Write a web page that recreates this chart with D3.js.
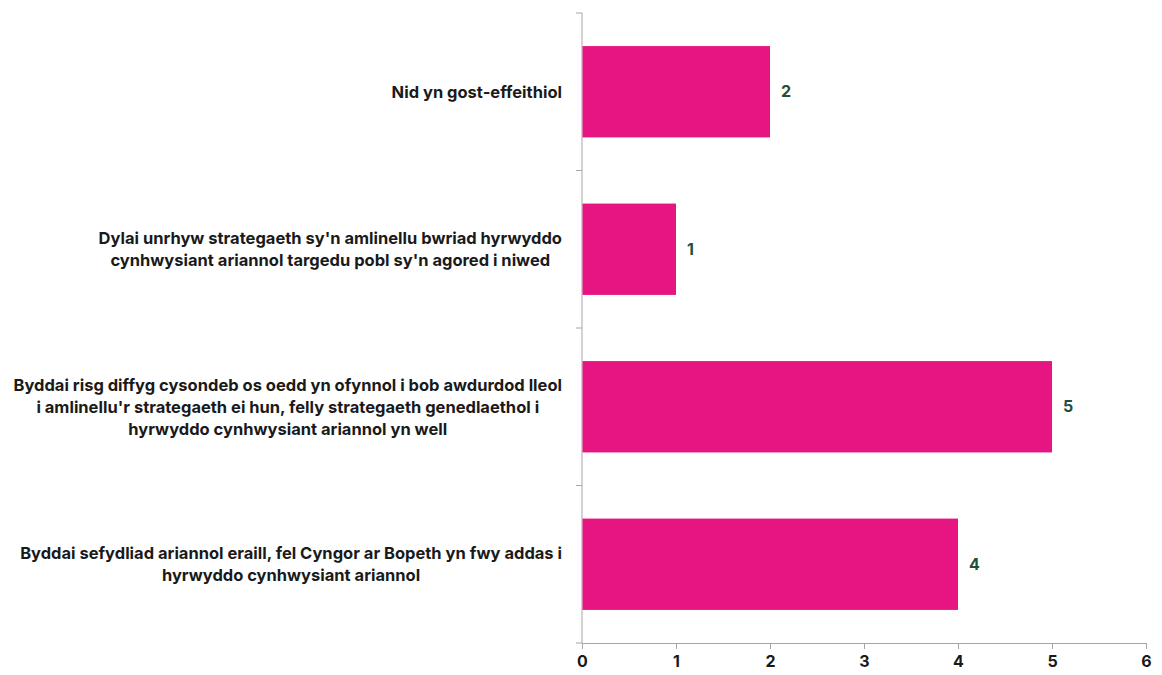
<!DOCTYPE html>
<html>
<head>
<meta charset="utf-8">
<script src="https://cdn.jsdelivr.net/npm/d3@7"></script>
<style>
  body { margin: 0; background: #fff; }
  svg text { font-family: Inter, "Noto Sans", sans-serif; }
</style>
</head>
<body>
<div class="canva"></div>
<script>
// categorïau (wedi'u rhannu'n llinellau fel yn y ddelwedd)
const categories = [
  ["Nid yn gost-effeithiol"],
  ["Dylai unrhyw strategaeth sy'n amlinellu bwriad hyrwyddo",
   "cynhwysiant ariannol targedu pobl sy'n agored i niwed"],
  ["Byddai risg diffyg cysondeb os oedd yn ofynnol i bob awdurdod lleol",
   "i amlinellu'r strategaeth ei hun, felly strategaeth genedlaethol i",
   "hyrwyddo cynhwysiant ariannol yn well"],
  ["Byddai sefydliad ariannol eraill, fel Cyngor ar Bopeth yn fwy addas i",
   "hyrwyddo cynhwysiant ariannol"]
];
const values = [2, 1, 5, 4];
const xTicks = [0, 1, 2, 3, 4, 5, 6];

document.addEventListener("DOMContentLoaded", function() {
  const width = 1162, height = 675;
  const margin = {top: 13, right: 16, bottom: 32, left: 582};

  const svg = d3.select(".canva")
    .append("svg")
    .attr("width", width)
    .attr("height", height);

  const x = d3.scaleLinear()
    .domain([0, 6])
    .range([margin.left, width - margin.right]);

  const y = d3.scaleBand()
    .domain(d3.range(categories.length))
    .range([margin.top, height - margin.bottom])
    .paddingInner(0.42)
    .paddingOuter(0.21);

  // echel x
  const xAxis = svg.append("g")
    .attr("transform", `translate(0,${height - margin.bottom})`)
    .call(d3.axisBottom(x).tickValues(xTicks).tickSize(6).tickPadding(7).tickFormat(d3.format("d")));
  xAxis.selectAll("path, line").attr("stroke", "#a6a6a6");
  xAxis.selectAll("text")
    .attr("font-size", 16).attr("font-weight", 700).attr("fill", "#1a1a1a")
    .style("font-family", "Inter, 'Noto Sans', sans-serif");

  // echel y: ticiau ar ffiniau'r bandiau
  const bounds = d3.range(categories.length + 1).map(i => margin.top + i * (height - margin.top - margin.bottom) / categories.length);
  const yAxis = svg.append("g");
  yAxis.append("line")
    .attr("x1", margin.left).attr("x2", margin.left)
    .attr("y1", margin.top).attr("y2", height - margin.bottom)
    .attr("stroke", "#a6a6a6");
  yAxis.selectAll("line.tick")
    .data(bounds)
    .enter()
    .append("line")
    .attr("class", "tick")
    .attr("x1", margin.left - 6).attr("x2", margin.left)
    .attr("y1", d => d).attr("y2", d => d)
    .attr("stroke", "#a6a6a6");

  // barrau
  svg.selectAll("rect.bar")
    .data(values)
    .enter()
    .append("rect")
    .attr("class", "bar")
    .attr("x", x(0) + 0.5)
    .attr("y", (d, i) => y(i))
    .attr("width", d => x(d) - x(0) - 0.5)
    .attr("height", y.bandwidth())
    .attr("fill", "#e61582");

  // labeli gwerth
  svg.selectAll("text.val")
    .data(values)
    .enter()
    .append("text")
    .attr("class", "val")
    .attr("x", d => x(d) + 11)
    .attr("y", (d, i) => y(i) + y.bandwidth() / 2)
    .attr("dy", "0.35em")
    .attr("font-size", 16)
    .attr("font-weight", 700)
    .attr("fill", "#1f4e3d")
    .text(d => d);

  // labeli categori
  const lineH = 22;
  const rightEdge = margin.left - 20;
  const labels = svg.selectAll("g.cat")
    .data(categories)
    .enter()
    .append("g")
    .attr("class", "cat");
  labels.each(function(lines, i) {
    const g = d3.select(this);
    const cy = y(i) + y.bandwidth() / 2;
    const y0 = cy - (lines.length - 1) * lineH / 2;
    const t = g.selectAll("text")
      .data(lines)
      .enter()
      .append("text")
      .attr("y", (d, j) => y0 + j * lineH)
      .attr("dy", "0.35em")
      .attr("font-size", 16.5)
      .attr("font-weight", 700)
      .attr("fill", "#1a1a1a")
      .attr("text-anchor", "middle")
      .text(d => d);
    let maxW = 0;
    t.each(function() { maxW = Math.max(maxW, this.getComputedTextLength()); });
    t.attr("x", rightEdge - maxW / 2);
  });
});
</script>
</body>
</html>
